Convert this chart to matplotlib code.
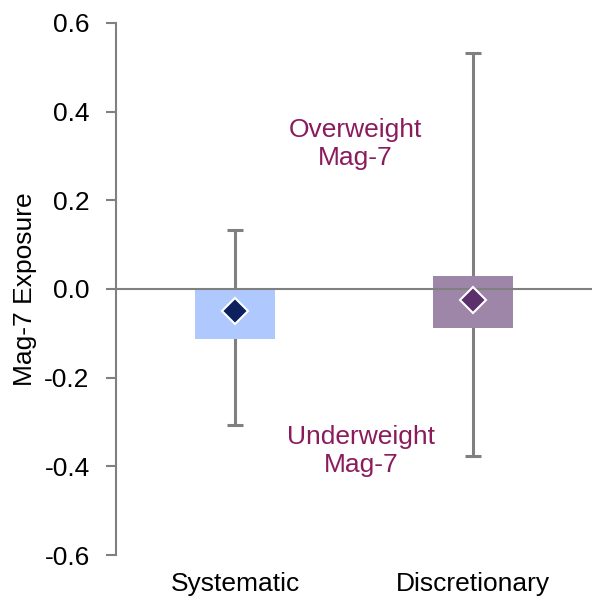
import matplotlib.pyplot as plt

plt.rcParams['font.family'] = ['Liberation Sans', 'DejaVu Sans']

# data
categories = ['Systematic', 'Discretionary']
box_low = [-0.113, -0.088]
box_high = [0.0, 0.030]
median = [-0.049, -0.026]
whisk_low = [-0.307, -0.377]
whisk_high = [0.133, 0.533]
box_colors = ['#AFC9FF', '#9E86A8']
dot_colors = ['#0C215E', '#5C316B']
yticks = [-0.6, -0.4, -0.2, 0.0, 0.2, 0.4, 0.6]

label_color = '#8A1C5E'
grey = '#808080'

fig = plt.figure(figsize=(5.92, 6.02), dpi=100)
ax = fig.add_axes([0.196, 0.078, 0.804, 0.884])

for i in range(len(categories)):
    # whisker + caps
    ax.errorbar(i, median[i], yerr=[[median[i] - whisk_low[i]], [whisk_high[i] - median[i]]],
                fmt='none', ecolor=grey, elinewidth=2.2, capsize=6, capthick=2.2, zorder=1)
    # box
    ax.bar(i, box_high[i] - box_low[i], bottom=box_low[i], width=0.34,
           color=box_colors[i], zorder=2)
    # mean marker
    ax.plot(i, median[i], marker='D', markersize=13.5, color=dot_colors[i],
            markeredgecolor='white', markeredgewidth=1.5, zorder=4)

ax.axhline(0, color=grey, linewidth=1.5, zorder=3)

ax.text(0.505, 0.327, 'Overweight\nMag-7', color=label_color, fontsize=19,
        ha='center', va='center', linespacing=1.2)
ax.text(0.53, -0.365, 'Underweight\nMag-7', color=label_color, fontsize=19,
        ha='center', va='center', linespacing=1.2)

ax.set_xlim(-0.5, 1.5)
ax.set_ylim(-0.6, 0.6)
ax.set_yticks(yticks)
ax.set_yticklabels(['%.1f' % v for v in yticks])
ax.set_xticks(range(len(categories)))
ax.set_xticklabels(categories)
ax.tick_params(axis='y', labelsize=19, color=grey, length=7, width=1.5, pad=12)
ax.tick_params(axis='x', labelsize=19, length=0, pad=12)

for s in ['top', 'right', 'bottom']:
    ax.spines[s].set_visible(False)
ax.spines['left'].set_color(grey)
ax.spines['left'].set_linewidth(1.5)

ax.set_ylabel('Mag-7 Exposure', fontsize=19, labelpad=5)

plt.savefig('out.png', dpi=100)
